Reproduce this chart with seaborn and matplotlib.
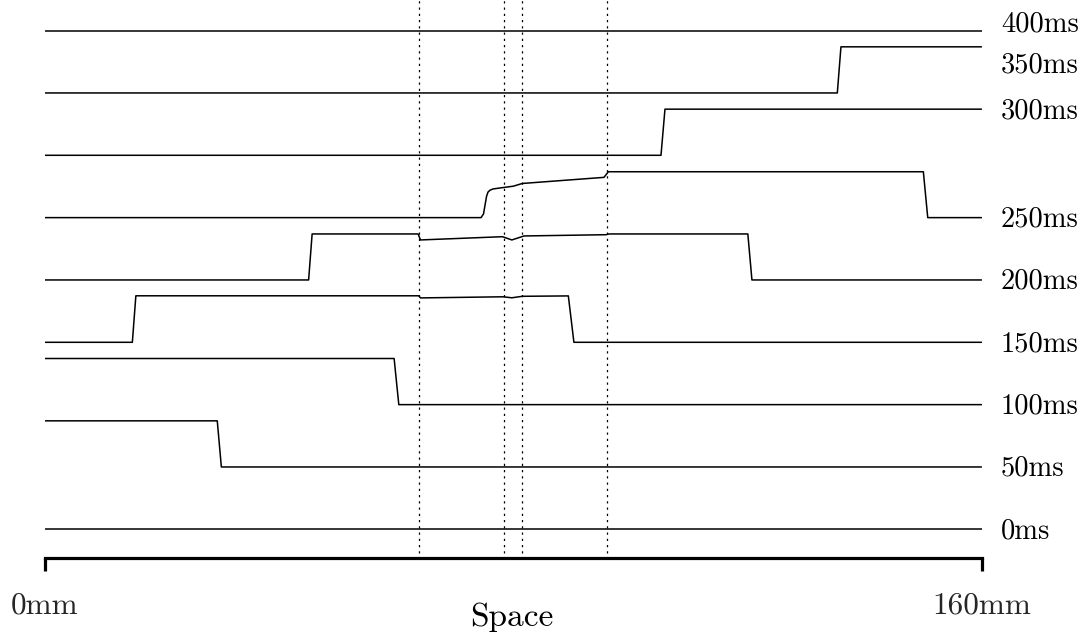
import numpy as np
import pandas as pd
import seaborn as sns
import matplotlib.pyplot as plt

# ---- data ---------------------------------------------------------------
# Each snapshot: positions (mm) and signal offset above its own time baseline.
times = [0, 50, 100, 150, 200, 250, 300, 350, 400]

pos_t0 = [0, 160]
amp_t0 = [0, 0]

pos_t50 = [0, 29.5, 30.2, 160]
amp_t50 = [37, 37, 0, 0]

pos_t100 = [0, 59.7, 60.5, 160]
amp_t100 = [37, 37, 0, 0]

pos_t150 = [0, 15.0, 15.6, 63.9, 64.2, 78.3, 79.8, 81.6, 89.45, 90.4, 160]
amp_t150 = [0, 0, 37.3, 37.3, 35.6, 36.5, 35.7, 36.9, 37.2, 0, 0]

pos_t200 = [0, 45.1, 45.7, 63.8, 64.2, 78.2, 79.8, 81.9, 95.9, 96.4, 120.1, 120.8, 160]
amp_t200 = [0, 0, 36.9, 36.9, 32.1, 34.7, 32.1, 35.3, 36.3, 36.9, 36.9, 0, 0]

pos_t250 = [0, 74.54, 74.97, 75.22, 75.48, 75.73, 76.08, 76.59, 78.42,
            80.05, 81.59, 95.54, 96.28, 150.07, 150.82, 160]
amp_t250 = [0, 0, 3, 10, 17, 20.5, 22.0, 23.0, 24.2,
            25.2, 27.4, 32.3, 36.8, 36.8, 0, 0]

pos_t300 = [0, 105.27, 105.95, 160]
amp_t300 = [0, 0, 37, 37]

pos_t350 = [0, 135.38, 136.0, 160]
amp_t350 = [0, 0, 37, 37]

pos_t400 = [0, 160]
amp_t400 = [0, 0]

# Material interfaces (mm)
interfaces = [64.0, 78.4, 81.6, 96.0]

# Right-hand time labels and their vertical placement (ms units)
time_labels = ["0ms", "50ms", "100ms", "150ms", "200ms", "250ms", "300ms", "350ms", "400ms"]
label_pos = [0, 50, 100, 150, 200, 250, 337, 374, 406.5]

x_tick_pos = [0, 160]
x_tick_labels = ["0mm", "160mm"]

# ---- assemble long table -------------------------------------------------
snapshots = [
    (pos_t0, amp_t0), (pos_t50, amp_t50), (pos_t100, amp_t100),
    (pos_t150, amp_t150), (pos_t200, amp_t200), (pos_t250, amp_t250),
    (pos_t300, amp_t300), (pos_t350, amp_t350), (pos_t400, amp_t400),
]
rows = []
for t, (px, amp) in zip(times, snapshots):
    for order, (x, a) in enumerate(zip(px, amp)):
        rows.append({"time": t, "order": order, "pos": x, "value": t + a})
df = pd.DataFrame(rows)

# ---- figure ---------------------------------------------------------------
sns.set_theme(style="white")
plt.rcParams["font.family"] = "serif"
plt.rcParams["font.serif"] = ["cmr10"]
plt.rcParams["axes.formatter.use_mathtext"] = True

W, H = 1087, 634
fig = plt.figure(figsize=(W / 100, H / 100), dpi=100)
ax_left, ax_right, ax_bottom = 44.5, 981.5, 558.3
ax = fig.add_axes([ax_left / W, 1 - ax_bottom / H, (ax_right - ax_left) / W, ax_bottom / H])

sns.lineplot(data=df, x="pos", y="value", units="time", estimator=None,
             sort=False, color="black", linewidth=1.1, ax=ax, legend=False)

for xi in interfaces:
    ax.axvline(xi, ymin=0.01, ymax=1.0, color="black", linewidth=0.9,
               linestyle=(0, (1.8, 3.2)))

ax.set_xlim(0, 160)
ax.set_ylim(-23.26, 424.56)

for side in ["left", "right", "top"]:
    ax.spines[side].set_visible(False)
ax.spines["bottom"].set_linewidth(2.3)
ax.spines["bottom"].set_color("black")
ax.spines["bottom"].set_capstyle("projecting")

ax.set_yticks([])
ax.set_xticks(x_tick_pos, x_tick_labels)
ax.tick_params(axis="x", direction="out", length=9.6, width=2.3,
               color="black", labelsize=22.5, pad=14, bottom=True)
ax.set_xlabel("")
ax.set_ylabel("")

for lab, yp in zip(time_labels, label_pos):
    ax.text(163.3, yp - 7.2, lab, fontsize=20.5, ha="left", va="baseline",
            color="black", clip_on=False)

fig.text(511.5 / W, 1 - 626 / H, "Space", fontsize=24, ha="center",
         va="baseline", color="black")

fig.savefig("out.png", dpi=100, facecolor="white")
